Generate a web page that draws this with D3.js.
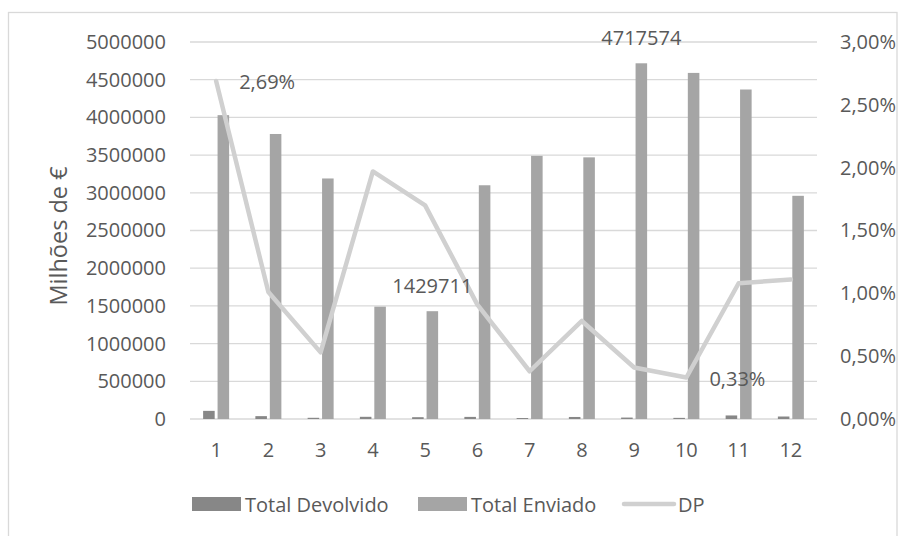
<!DOCTYPE html>
<html>
<head>
<meta charset="utf-8">
<script src="https://cdn.jsdelivr.net/npm/d3@7"></script>
<style>
  html, body { margin: 0; padding: 0; background: #ffffff; }
  svg { display: block; }
  text { font-family: "Open Sans", "Noto Sans", sans-serif; fill: #595959; }
</style>
</head>
<body>
<svg id="chart" width="905" height="536"></svg>
<script>
// Months
const categories = ["1", "2", "3", "4", "5", "6", "7", "8", "9", "10", "11", "12"];
// Total Devolvido per month (€)
const totalDevolvido = [108000, 38000, 16000, 29000, 24000, 28000, 13000, 27000, 19000, 15000, 47000, 33000];
// Total Enviado per month (€)
const totalEnviado = [4030000, 3780000, 3190000, 1490000, 1429711, 3100000, 3490000, 3470000, 4717574, 4590000, 4370000, 2960000];
// DP ratio per month
const dp = [0.0269, 0.0101, 0.0053, 0.0197, 0.0170, 0.0091, 0.0038, 0.0078, 0.0041, 0.0033, 0.0108, 0.0111];
// Axis ticks
const leftTicks = [0, 500000, 1000000, 1500000, 2000000, 2500000, 3000000, 3500000, 4000000, 4500000, 5000000];
const rightTicks = [0, 0.005, 0.01, 0.015, 0.02, 0.025, 0.03];
// Values that carry a data label
const enviadoLabelled = [4, 8];   // indices into totalEnviado
const dpLabelled = [0, 9];        // indices into dp

const colors = { devolvido: "#878787", enviado: "#a5a5a5", dp: "#d0d0d0", grid: "#d9d9d9" };

const locale = d3.formatLocale({ decimal: ",", thousands: ".", grouping: [3], currency: ["", " €"] });
const fmtInt = locale.format("d");
const fmtPct = locale.format(".2%");

const svg = d3.select("#chart");

// chart frame
svg.append("rect")
  .attr("x", 8.5).attr("y", 12.5)
  .attr("width", 888.5).attr("height", 540)
  .attr("fill", "#ffffff")
  .attr("stroke", colors.grid).attr("stroke-width", 1.3);

const plot = { left: 190, right: 817, top: 42, bottom: 419 };

const x = d3.scaleBand().domain(categories).range([plot.left, plot.right]);
const bw = x.bandwidth();
const x1 = d3.scaleBand().domain(["devolvido", "enviado"])
  .range([bw / 2 - 13, bw / 2 + 13]).paddingInner(0.2);
const y = d3.scaleLinear().domain([0, 5000000]).range([plot.bottom, plot.top]);
const yr = d3.scaleLinear().domain([0, 0.03]).range([plot.bottom, plot.top]);

// gridlines
svg.append("g").selectAll("line").data(leftTicks).join("line")
  .attr("x1", plot.left).attr("x2", plot.right)
  .attr("y1", d => y(d)).attr("y2", d => y(d))
  .attr("stroke", colors.grid).attr("stroke-width", 1.3);

// bars
const rows = categories.map((c, i) => ({ c, dev: totalDevolvido[i], env: totalEnviado[i] }));
const groups = svg.append("g").selectAll("g").data(rows).join("g")
  .attr("transform", d => `translate(${x(d.c)},0)`);
groups.append("rect")
  .attr("x", x1("devolvido")).attr("width", x1.bandwidth())
  .attr("y", d => y(d.dev)).attr("height", d => y(0) - y(d.dev))
  .attr("fill", colors.devolvido);
groups.append("rect")
  .attr("x", x1("enviado")).attr("width", x1.bandwidth())
  .attr("y", d => y(d.env)).attr("height", d => y(0) - y(d.env))
  .attr("fill", colors.enviado);

// DP line
const line = d3.line()
  .x((d, i) => x(categories[i]) + bw / 2)
  .y(d => yr(d));
svg.append("path").datum(dp)
  .attr("d", line)
  .attr("fill", "none")
  .attr("stroke", colors.dp)
  .attr("stroke-width", 4.5)
  .attr("stroke-linejoin", "round")
  .attr("stroke-linecap", "round");

// axes
function styleAxis(g) {
  g.select(".domain").remove();
  g.selectAll(".tick line").remove();
  g.selectAll("text").attr("font-size", 20).attr("fill", "#595959")
    .style("font-family", '"Open Sans", "Noto Sans", sans-serif');
}
svg.append("g")
  .attr("transform", `translate(${plot.left},0)`)
  .call(d3.axisLeft(y).tickValues(leftTicks).tickFormat(fmtInt).tickSize(0).tickPadding(24))
  .call(styleAxis);
svg.append("g")
  .attr("transform", `translate(${plot.right},0)`)
  .call(d3.axisRight(yr).tickValues(rightTicks).tickFormat(fmtPct).tickSize(0).tickPadding(23))
  .call(styleAxis);
svg.append("g")
  .attr("transform", `translate(0,${plot.bottom})`)
  .call(d3.axisBottom(x).tickSize(0).tickPadding(24))
  .call(styleAxis);

// axis title
svg.append("text")
  .attr("transform", `translate(67,236) rotate(-90)`)
  .attr("text-anchor", "middle")
  .attr("font-size", 23.5)
  .text("Milhões de €");

// data labels
svg.append("g").selectAll("text").data(enviadoLabelled).join("text")
  .attr("x", i => x(categories[i]) + x1("enviado") + x1.bandwidth() / 2)
  .attr("y", i => y(totalEnviado[i]) - 25.5)
  .attr("text-anchor", "middle")
  .attr("dominant-baseline", "central")
  .attr("font-size", 20)
  .attr("fill", "#404040")
  .text(i => fmtInt(totalEnviado[i]));
svg.append("g").selectAll("text").data(dpLabelled).join("text")
  .attr("x", i => x(categories[i]) + bw / 2 + 23)
  .attr("y", i => yr(dp[i]) + 1)
  .attr("text-anchor", "start")
  .attr("dominant-baseline", "central")
  .attr("font-size", 20)
  .attr("fill", "#404040")
  .text(i => fmtPct(dp[i]));

// legend
const legend = [
  { name: "Total Devolvido", type: "rect", color: colors.devolvido, x: 192 },
  { name: "Total Enviado", type: "rect", color: colors.enviado, x: 418 },
  { name: "DP", type: "line", color: colors.dp, x: 622 }
];
const lg = svg.append("g").selectAll("g").data(legend).join("g")
  .attr("transform", d => `translate(${d.x},504)`);
lg.filter(d => d.type === "rect").append("rect")
  .attr("x", 0).attr("y", -7).attr("width", 49).attr("height", 14)
  .attr("fill", d => d.color);
lg.filter(d => d.type === "line").append("line")
  .attr("x1", 2).attr("x2", 52).attr("y1", 0).attr("y2", 0)
  .attr("stroke", d => d.color).attr("stroke-width", 4.5).attr("stroke-linecap", "round");
lg.append("text")
  .attr("x", d => d.type === "line" ? 56 : 53)
  .attr("y", 0)
  .attr("dominant-baseline", "central")
  .attr("font-size", 20)
  .text(d => d.name);
</script>
</body>
</html>
